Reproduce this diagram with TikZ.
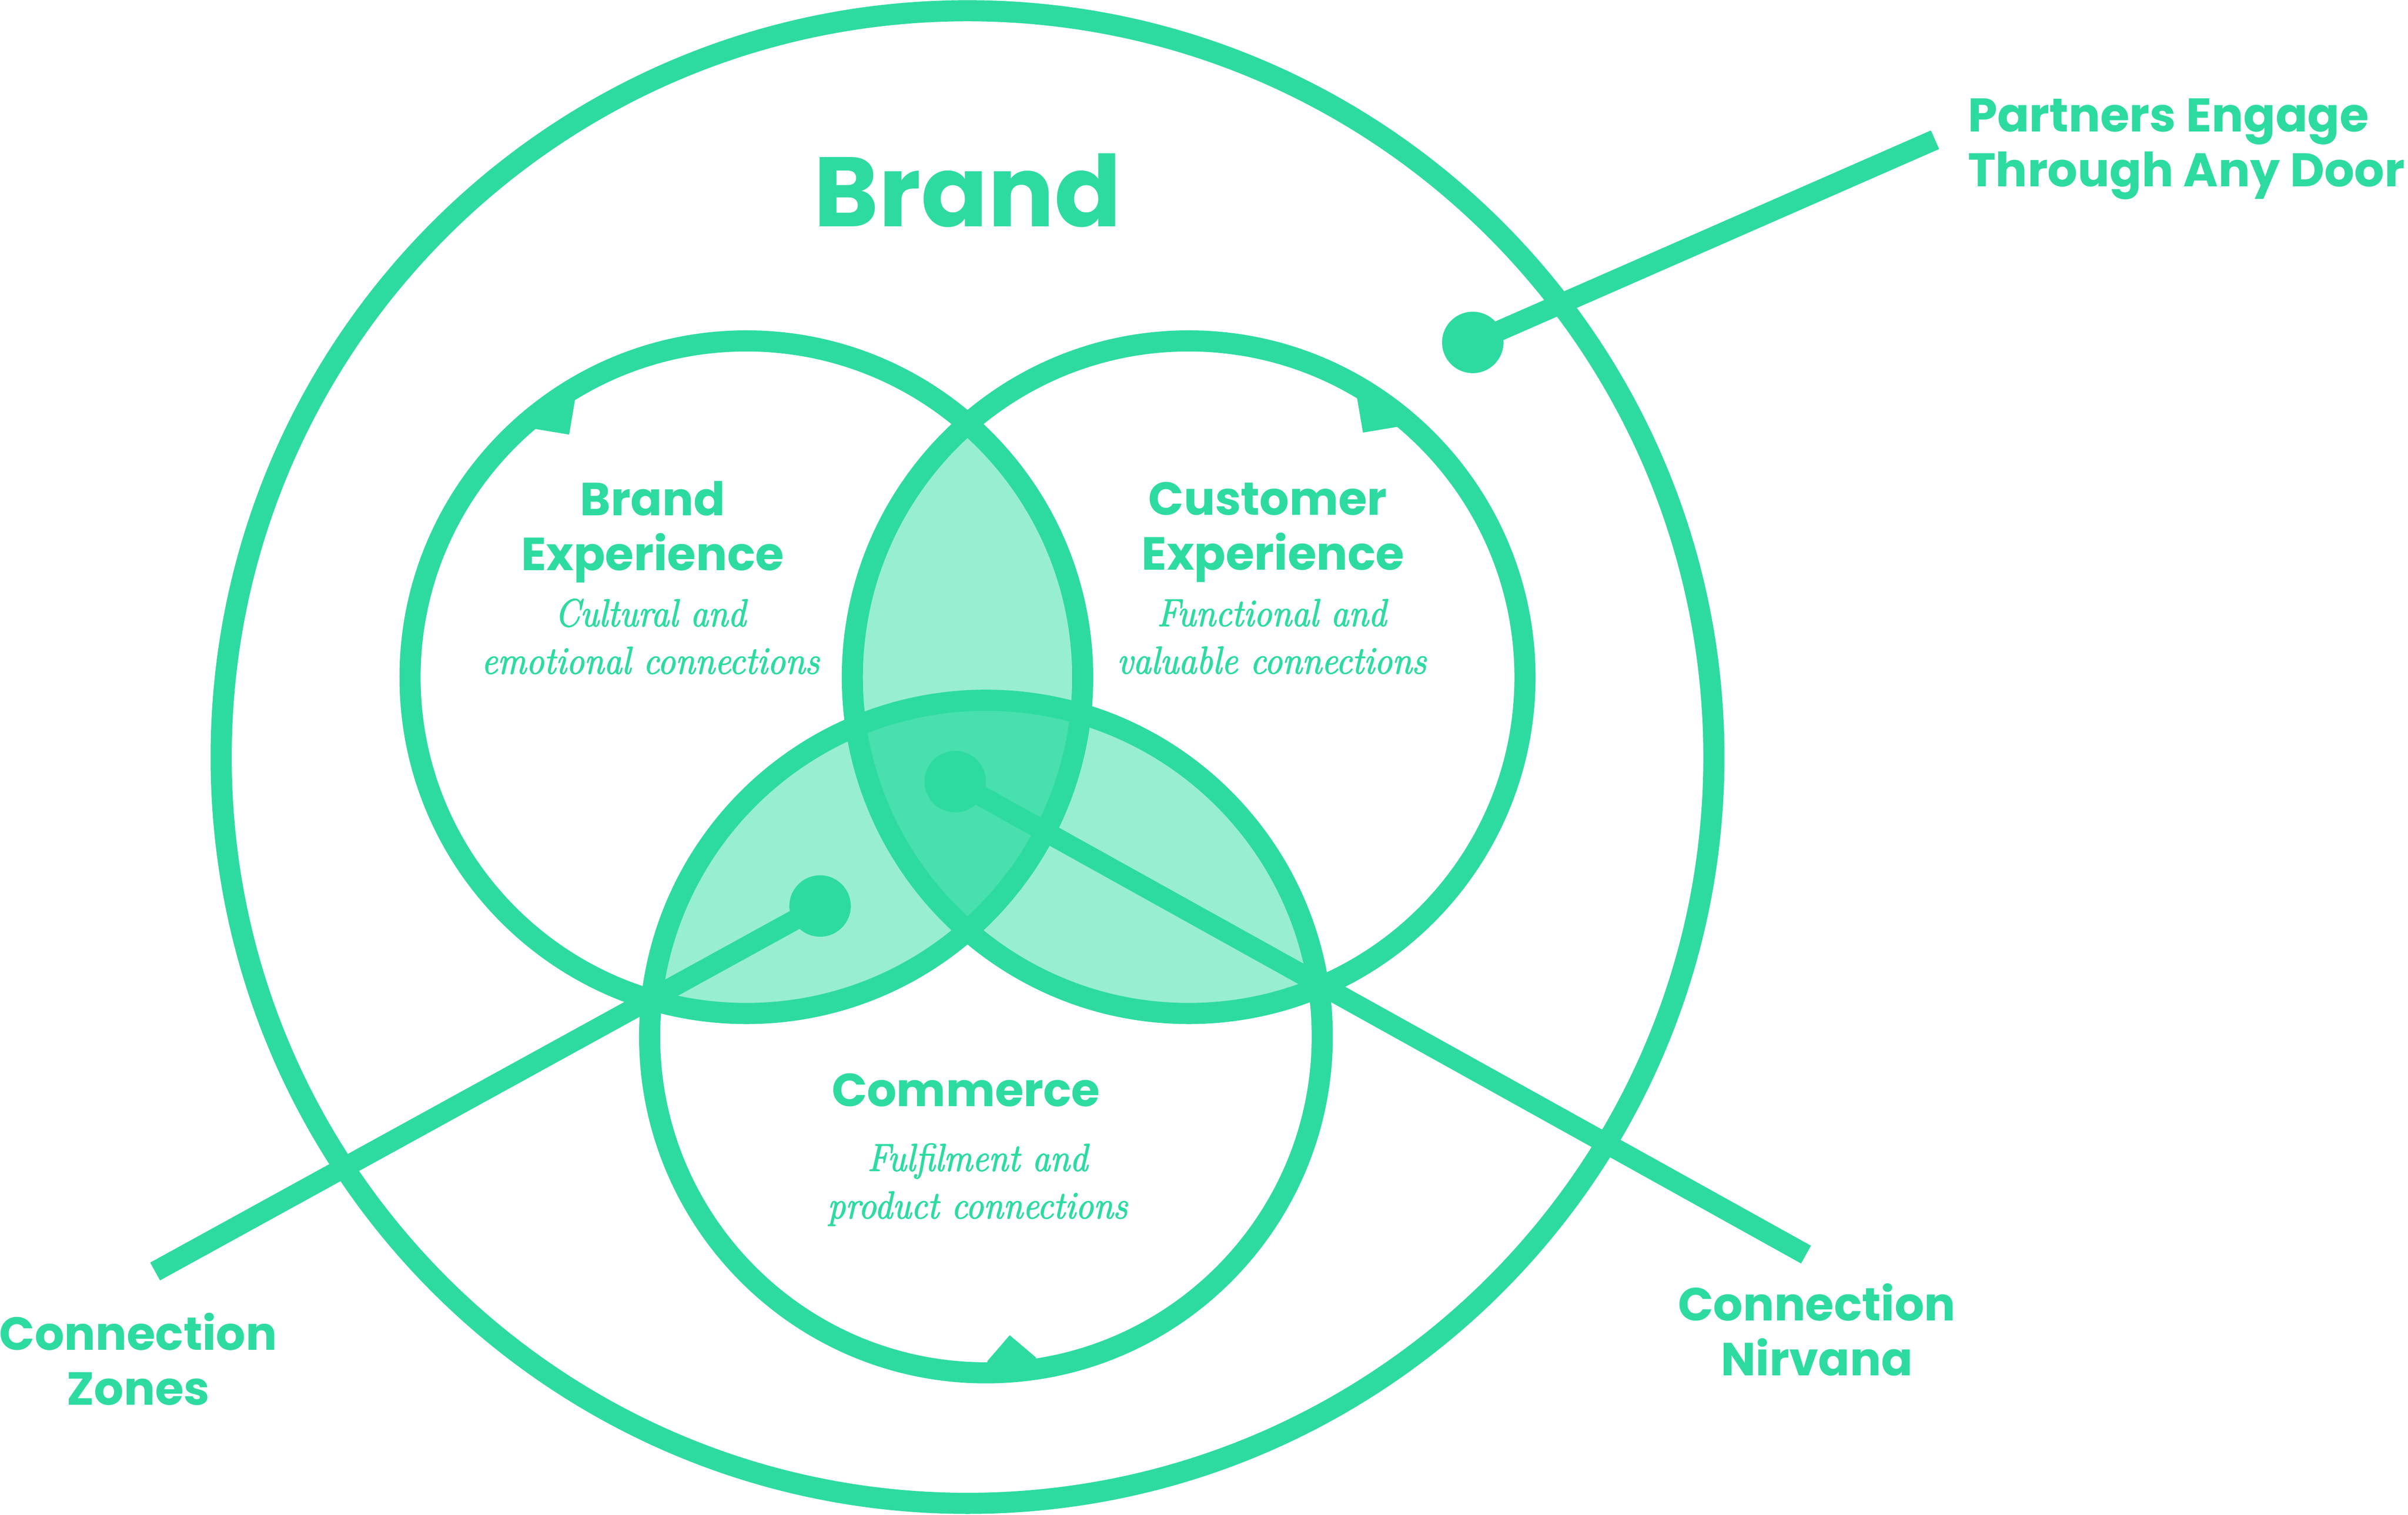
\documentclass[tikz,border=0pt]{standalone}
\usepackage{fontspec}
\setmainfont{Poppins}
\newfontfamily\scriptface[FakeStretch=0.92,FakeBold=2]{Latin Modern Roman}
\definecolor{mint}{HTML}{2DDBA0}
\definecolor{lens}{HTML}{98EED0}
\definecolor{core}{HTML}{47E0AE}
\tikzset{
  ring/.style={circle,draw=mint,line width=0.275cm,inner sep=0pt,outer sep=0pt,minimum size=#1*0.02cm},
  dot/.style={circle,fill=mint,inner sep=0pt,outer sep=0pt,minimum size=0.8cm},
  spoke/.style={draw=mint,line width=0.265cm},
  tick/.style={fill=mint,draw=none},
  title/.style={text=mint,font=\fontsize{36.6}{42}\selectfont\bfseries,inner sep=0pt},
  head/.style={text=mint,font=\fontsize{17.2}{20.4}\selectfont\bfseries,align=center,inner sep=0pt},
  side/.style={text=mint,font=\fontsize{17.5}{20.4}\selectfont\bfseries,inner sep=0pt},
  note/.style={text=mint,font=\fontsize{14.4}{17.6}\selectfont\scriptface\itshape,align=center,inner sep=0pt},
}
\begin{document}
\begin{tikzpicture}[x=0.02cm,y=-0.02cm]
\useasboundingbox (0,0) rectangle (1568,986.3);
\fill[white] (0,0) rectangle (1568,986.3);
\def\ca{(486,441) circle (219)}
\def\cb{(774,441) circle (219)}
\def\cc{(642,675) circle (219)}
\begin{scope}\clip \ca; \fill[lens] \cb; \end{scope}
\begin{scope}\clip \ca; \fill[lens] \cc; \end{scope}
\begin{scope}\clip \cb; \fill[lens] \cc; \end{scope}
\begin{scope}\clip \ca; \clip \cb; \fill[core] \cc; \end{scope}
\node[ring=972] (whole) at (630,493) {};
\node[ring=438] (brandring) at (486,441) {};
\node[ring=438] (custring) at (774,441) {};
\node[ring=438] (commring) at (642,675) {};
\fill[tick] (374.4,260.3) -- (370.6,283) -- (348.3,279.3) -- (335,274) -- (346,265) -- cycle;
\fill[tick] (883.7,259.4) -- (887.5,281.7) -- (909.7,278) -- (925,274) -- (914,265) -- cycle;
\fill[tick] (642.9,886.4) -- (657.5,869.5) -- (674.6,884) -- (672,895) -- (645,897) -- cycle;
\node[dot] (doorDot) at (959,223) {};
\node[dot] (nirvanaDot) at (622,509) {};
\node[dot] (zoneDot) at (534,590) {};
\coordinate (doorEnd) at (1260,91);
\coordinate (nirvanaEnd) at (1176,817);
\coordinate (zoneEnd) at (101,828);
\path[spoke] (doorDot.center) -- (doorEnd);
\path[spoke] (nirvanaDot.center) -- (nirvanaEnd);
\path[spoke] (zoneDot.center) -- (zoneEnd);
\node[title] (brandtitle) at (630,124) {Brand};
\node[head] (brandhead) at (425,346.5) {Brand\\Experience};
\node[head] (custhead) at (829,346.5) {Customer\hspace*{0.14cm}\\Experience};
\node[head] (commhead) at (629,710) {Commerce};
\node[note] (brandnote) at (423.5,414.5) {Cultural and\\emotional connections};
\node[note] (custnote) at (828,414.5) {Functional and\\valuable connections};
\node[note] (commnote) at (636.5,771.5) {Fulfilment and\\product connections};
\node[side,align=left,anchor=west] (doorlabel) at (1281,97) {Partners Engage\\Through Any Door};
\node[head] (zonelabel) at (90,885) {Connection\\Zones};
\node[head] (nirvanalabel) at (1183,866) {Connection\\Nirvana};
\end{tikzpicture}
\end{document}
